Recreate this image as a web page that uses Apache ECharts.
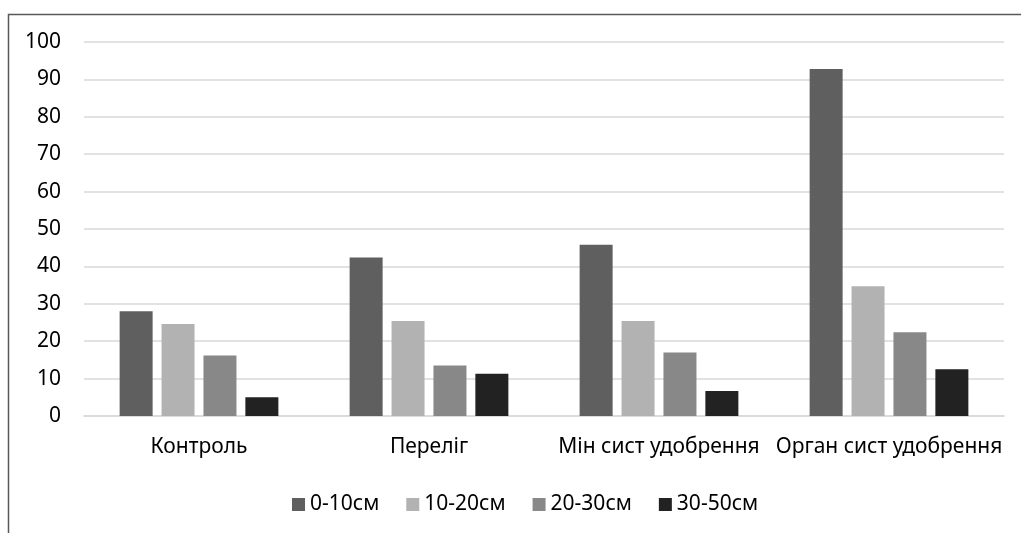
<!DOCTYPE html>
<html>
<head>
<meta charset="utf-8">
<script src="https://cdn.jsdelivr.net/npm/echarts@6/dist/echarts.min.js"></script>
<style>html,body{margin:0;padding:0;background:#fff;}#c{width:1021px;height:533px;}</style>
</head>
<body>
<div id="c"></div>
<script>
const categories = ['Контроль', 'Переліг', 'Мін сист удобрення', 'Орган сист удобрення'];
const seriesNames = ['0-10см', '10-20см', '20-30см', '30-50см'];
const s0_10 = [28.0, 42.4, 45.8, 92.8];
const s10_20 = [24.6, 25.4, 25.4, 34.7];
const s20_30 = [16.2, 13.5, 17.0, 22.4];
const s30_50 = [5.0, 11.3, 6.7, 12.5];
const colors = ['#5f5f5f', '#b2b2b2', '#888888', '#222222'];
const allData = [s0_10, s10_20, s20_30, s30_50];

const font = 'Noto Sans';
const chart = echarts.init(document.getElementById('c'), null, {renderer: 'canvas'});
chart.setOption({
  animation: false,
  backgroundColor: '#fff',
  textStyle: {fontFamily: font},
  graphic: [{
    type: 'rect',
    shape: {x: 8.5, y: 14.5, width: 1200, height: 1000},
    style: {fill: 'none', stroke: '#595959', lineWidth: 1.5},
    silent: true
  }],
  grid: {left: 84, right: 17, top: 42, bottom: 117, containLabel: false},
  legend: {
    top: 489,
    left: 287,
    itemWidth: 13,
    itemHeight: 13,
    itemGap: 27,
    icon: 'rect',
    textStyle: {fontSize: 21, color: '#000', fontFamily: font},
    data: seriesNames
  },
  xAxis: {
    type: 'category',
    data: categories,
    axisLine: {lineStyle: {color: '#d9d9d9', width: 1.5}},
    axisTick: {show: false},
    axisLabel: {fontSize: 21, color: '#000', margin: 21, fontFamily: font, interval: 0, hideOverlap: false}
  },
  yAxis: {
    type: 'value',
    min: 0, max: 100, interval: 10,
    axisLine: {show: false},
    axisTick: {show: false},
    splitLine: {lineStyle: {color: '#d9d9d9', width: 1.5}},
    axisLabel: {fontSize: 21, color: '#000', margin: 23, fontFamily: font}
  },
  series: allData.map((d, i) => ({
    name: seriesNames[i],
    type: 'bar',
    data: d,
    barWidth: 33,
    barGap: '27%',
    itemStyle: {color: colors[i]}
  }))
});
</script>
</body>
</html>
